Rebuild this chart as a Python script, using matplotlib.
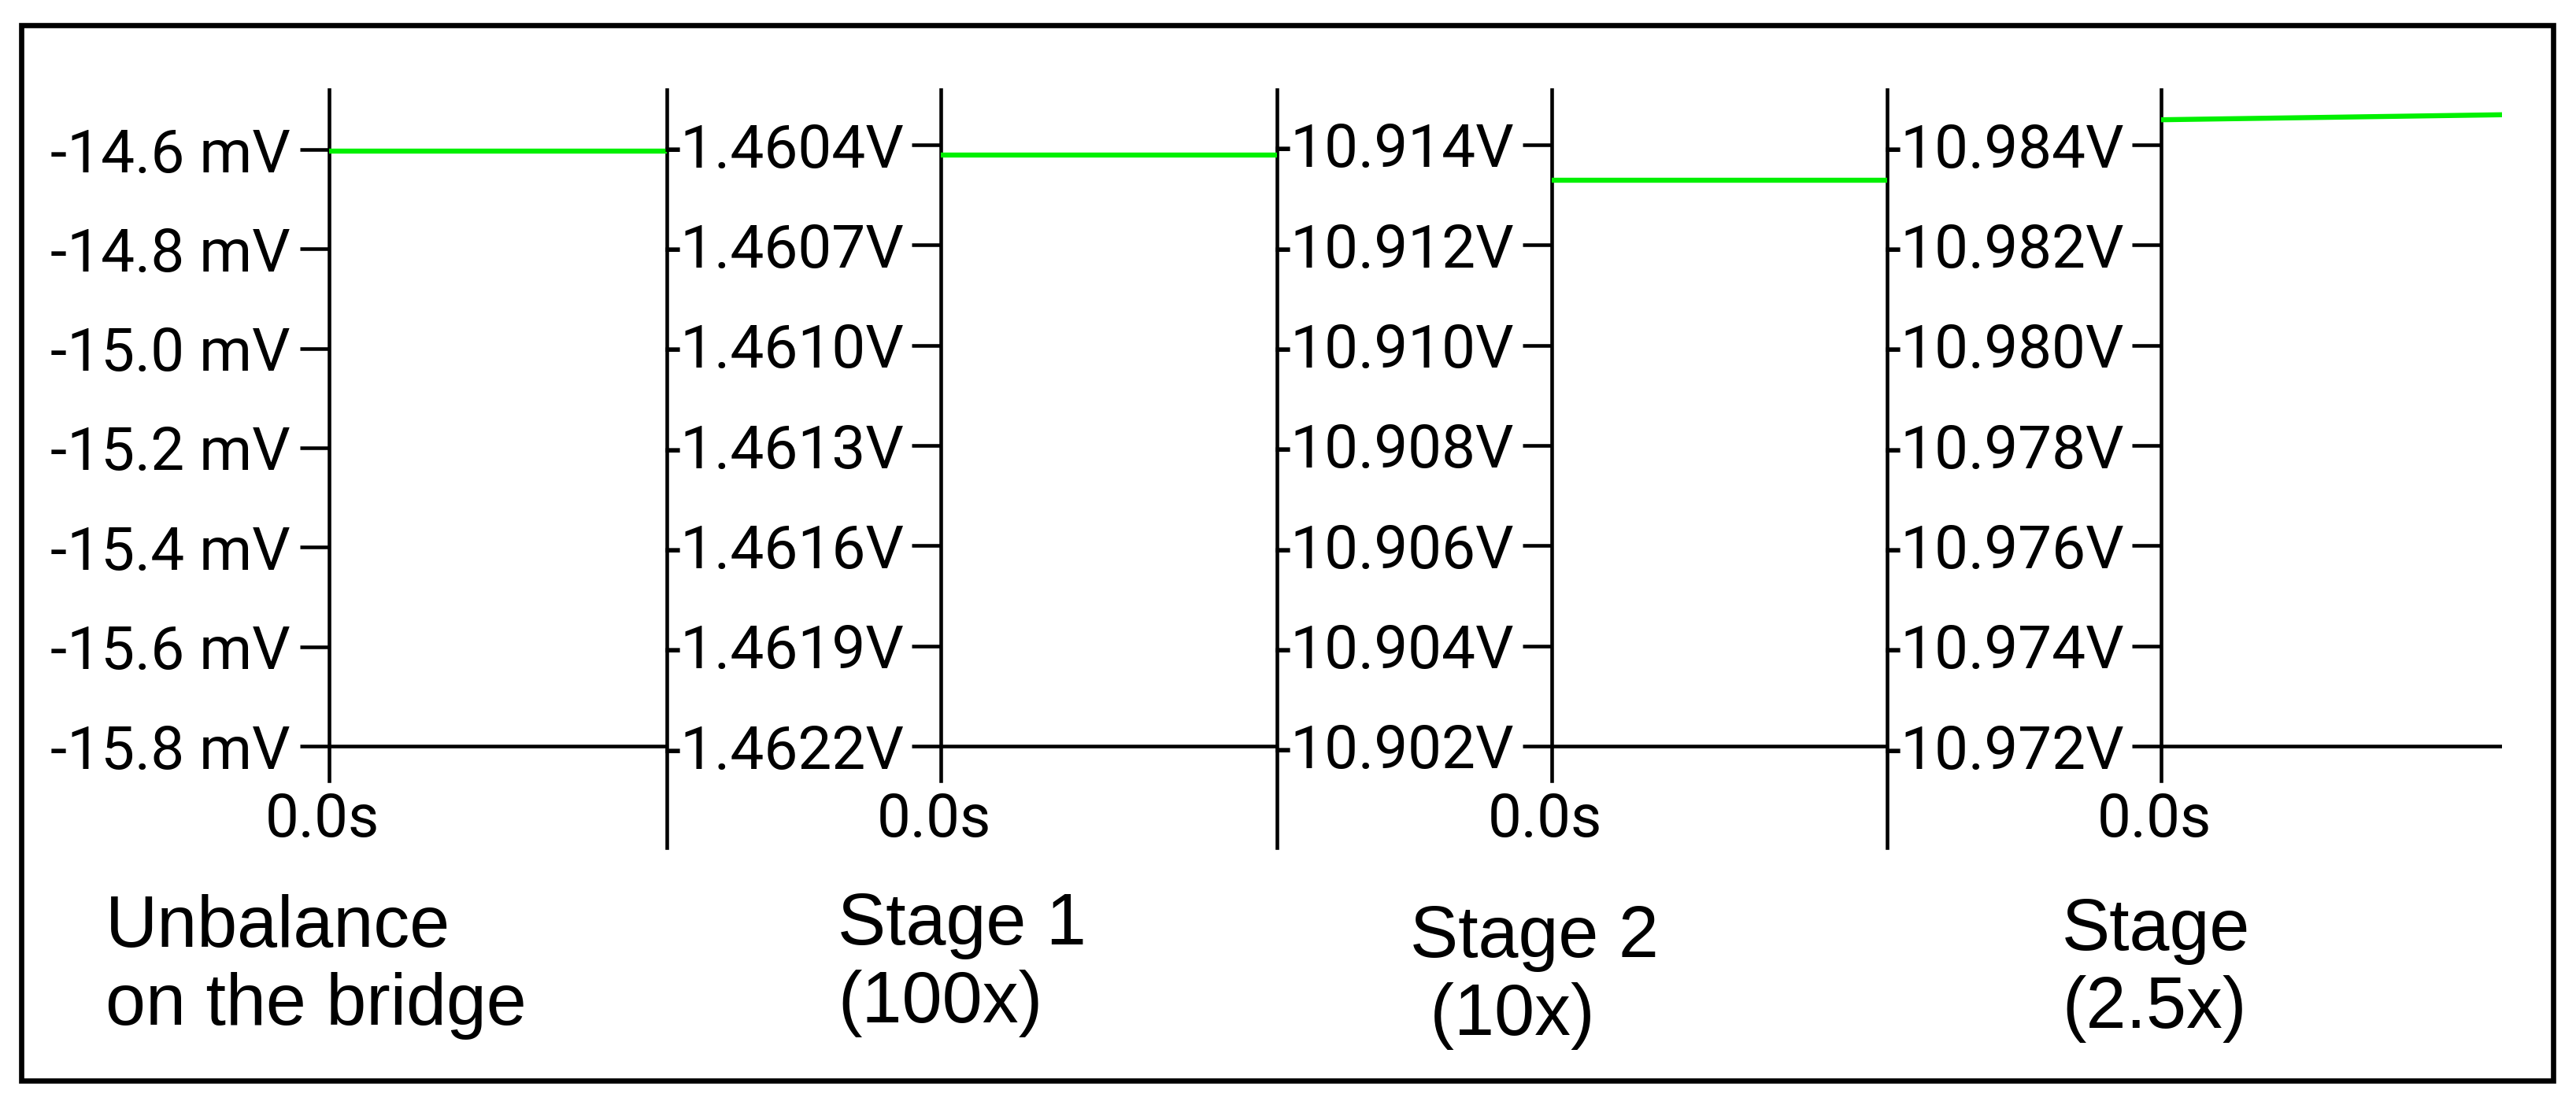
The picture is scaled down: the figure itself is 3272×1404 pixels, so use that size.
import matplotlib
matplotlib.use("Agg")
import matplotlib.pyplot as plt
from matplotlib.patches import Rectangle

# scope readings for the four amplifier stages
stage_titles = ["Unbalance\non the bridge", "Stage 1\n(100x)", "Stage 2\n (10x)", "Stage\n(2.5x)"]

p1_ticks = [-14.6, -14.8, -15.0, -15.2, -15.4, -15.6, -15.8]
p1_labels = ["-14.6 mV", "-14.8 mV", "-15.0 mV", "-15.2 mV", "-15.4 mV", "-15.6 mV", "-15.8 mV"]
p2_ticks = [-1.4604, -1.4607, -1.4610, -1.4613, -1.4616, -1.4619, -1.4622]
p2_labels = ["-1.4604V", "-1.4607V", "-1.4610V", "-1.4613V", "-1.4616V", "-1.4619V", "-1.4622V"]
p3_ticks = [-10.914, -10.912, -10.910, -10.908, -10.906, -10.904, -10.902]
p3_labels = ["-10.914V", "-10.912V", "-10.910V", "-10.908V", "-10.906V", "-10.904V", "-10.902V"]
p4_ticks = [-10.984, -10.982, -10.980, -10.978, -10.976, -10.974, -10.972]
p4_labels = ["-10.984V", "-10.982V", "-10.980V", "-10.978V", "-10.976V", "-10.974V", "-10.972V"]

t1 = [0.0, 1.0]
v1 = [-14.603, -14.603]
t2 = [0.0, 1.0]
v2 = [-1.46043, -1.46043]
t3 = [0.0, 1.0]
v3 = [-10.9133, -10.9133]
t4 = [0.0, 1.0]
v4 = [-10.9845, -10.9846]

time_label = "0.0s"

# layout in pixels of the 3272x1404 canvas
W, H = 3272, 1404
DPI = 100
PT = 72 / DPI  # points per pixel

def fx(px):
    return px / W

def fy(py):
    return 1 - py / H

plt.rcParams["font.family"] = ["Roboto", "DejaVu Sans"]

fig = plt.figure(figsize=(W / DPI, H / DPI), dpi=DPI)
fig.patch.set_facecolor("white")

spine_x = [418, 1195, 1971, 2745]
right_x = [847, 1622, 2397, 3178]
top_tick_px = [190, 184, 184, 184]
axis_px = 948          # the black horizontal axis line
ax_top, ax_bot = 114, 1077
left_spine_bot = 992
time_base_px = 1063
tick_len = 37
green = "#00f000"
lw_black = 3.3
tick_fs = 55

panels = [
    (t1, v1, p1_ticks, p1_labels),
    (t2, v2, p2_ticks, p2_labels),
    (t3, v3, p3_ticks, p3_labels),
    (t4, v4, p4_ticks, p4_labels),
]

for i, (t, v, ticks, labels) in enumerate(panels):
    x0, x1 = spine_x[i], right_x[i]
    ax = fig.add_axes([fx(x0), fy(ax_bot), (x1 - x0) / W, (ax_bot - ax_top) / H])
    ax.set_facecolor("none")

    # map top tick and axis line to their pixel rows
    per_px = (ticks[0] - ticks[-1]) / (axis_px - top_tick_px[i])
    y_top = ticks[0] + (top_tick_px[i] - ax_top) * per_px
    y_bot = ticks[-1] - (ax_bot - axis_px) * per_px
    ax.set_ylim(y_bot, y_top)
    ax.set_xlim(0, 1)

    ax.plot(t, v, color=green, lw=4.6, solid_capstyle="butt", zorder=3)
    ax.axhline(ticks[-1], color="black", lw=lw_black, zorder=2)

    for s in ["top", "bottom"]:
        ax.spines[s].set_visible(False)
    ax.spines["left"].set_linewidth(lw_black)
    ax.spines["left"].set_bounds(ticks[-1] - (left_spine_bot - axis_px) * per_px, y_top)
    if i < 3:
        ax.spines["right"].set_linewidth(lw_black)
    else:
        ax.spines["right"].set_visible(False)

    ax.set_xticks([])
    ax.set_yticks(ticks, labels=labels)
    if i == 0:
        pad = 12 * PT
    else:
        pad = (spine_x[i] - right_x[i - 1] - tick_len + 3) * PT
    ax.tick_params(axis="y", direction="out", length=tick_len * PT, width=lw_black,
                   pad=pad, labelsize=tick_fs, colors="black")
    if i > 0:
        for lab in ax.get_yticklabels():
            lab.set_horizontalalignment("left")

    ax.annotate(time_label, xy=(0, (ax_bot - time_base_px) / (ax_bot - ax_top)),
                xycoords=ax.get_xaxis_transform(), xytext=(-9 * PT, 0),
                textcoords="offset points", ha="center", va="baseline",
                fontsize=tick_fs, annotation_clip=False)

# stage captions under each scope (y = baseline of the second line)
cap_x = [134, 1064, 1791, 2619]
cap_y = [1302, 1299, 1315, 1306]
for name, cx, cy in zip(stage_titles, cap_x, cap_y):
    fig.text(fx(cx), fy(cy), name, ha="left", va="baseline", fontsize=66,
             family=["Liberation Sans", "DejaVu Sans"], linespacing=1.2)

# outer frame
fig.add_artist(Rectangle((fx(27), fy(1373)), fx(3243) - fx(27), fy(32) - fy(1373),
                         transform=fig.transFigure, fill=False, ec="black", lw=4.8))

fig.savefig("out.png", dpi=DPI, facecolor="white")
